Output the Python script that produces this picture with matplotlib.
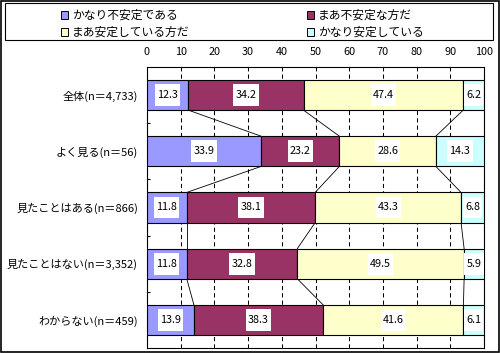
import numpy as np
import matplotlib.pyplot as plt
from matplotlib.patches import Rectangle
from matplotlib.path import Path

plt.rcParams['font.family'] = ['Noto Sans CJK JP', 'DejaVu Sans']

# data (percent)
categories = ['全体(n＝4,733)', 'よく見る(n＝56)', '見たことはある(n＝866)',
              '見たことはない(n＝3,352)', 'わからない(n＝459)']
series_names = ['かなり不安定である', 'まあ不安定な方だ', 'まあ安定している方だ', 'かなり安定している']
very_unstable = [12.3, 33.9, 11.8, 11.8, 13.9]
fairly_unstable = [34.2, 23.2, 38.1, 32.8, 38.3]
fairly_stable = [47.4, 28.6, 43.3, 49.5, 41.6]
very_stable = [6.2, 14.3, 6.8, 5.9, 6.1]
colors = ['#9999FF', '#993366', '#FFFFCC', '#CCFFFF']

values = np.array([very_unstable, fairly_unstable, fairly_stable, very_stable])
# 100% stacked: normalise each row
shares = values / values.sum(axis=0) * 100
lefts = np.vstack([np.zeros(len(categories)), np.cumsum(shares, axis=0)[:-1]])
ends = lefts + shares


def label_box(x0, y0, width, height, mutation_size):
    """White label box, taller than the text like in Excel."""
    padx = 0.2 * mutation_size
    cy = y0 + height / 2
    half = 1.0 * mutation_size
    x0, x1 = x0 - padx, x0 + width + padx
    return Path([(x0, cy - half), (x1, cy - half), (x1, cy + half), (x0, cy + half), (x0, cy - half)],
                closed=True)


fig = plt.figure(figsize=(5, 3.53), dpi=100)
ax = fig.add_axes([147 / 500, 1 - 348 / 353, 337 / 500, 281 / 353])

y = np.arange(len(categories))
bar_h = 0.536
for k in range(len(series_names)):
    ax.barh(y, shares[k], left=lefts[k], height=bar_h, color=colors[k],
            edgecolor='black', linewidth=0.8, zorder=3)
    for i in range(len(categories)):
        ax.text(lefts[k][i] + shares[k][i] / 2, y[i], f'{values[k][i]:.1f}',
                ha='center', va='center', fontsize=7.8, zorder=5,
                bbox=dict(boxstyle=label_box, fc='white', ec='none'))

# series lines between bars
for k in range(len(series_names) - 1):
    for i in range(len(categories) - 1):
        ax.plot([ends[k][i], ends[k][i + 1]], [y[i] + bar_h / 2, y[i + 1] - bar_h / 2],
                color='black', lw=0.6, zorder=2)

ax.set_xlim(0, 100)
ax.set_ylim(len(categories) - 0.5, -0.5)
ax.set_xticks(range(0, 101, 10))
ax.xaxis.tick_top()
ax.tick_params(axis='x', length=0, pad=7, labelsize=7.8)
ax.xaxis.grid(True, linestyle=(0, (4, 3)), color='black', lw=0.75, zorder=1)
ax.set_yticks(y)
ax.set_yticklabels(categories, fontsize=8.0)
ax.tick_params(axis='y', which='major', length=0, pad=6.5)
ax.set_yticks(np.arange(0.5, len(categories) - 1, 1), minor=True)
ax.tick_params(axis='y', which='minor', direction='in', length=2.5, width=0.8)
for s in ax.spines.values():
    s.set_linewidth(0.8)
    s.set_color('black')

# legend drawn by hand to match the box layout
fig.patches.append(Rectangle((5 / 500, 1 - 40 / 353), 488 / 500, 37 / 353,
                             transform=fig.transFigure, fill=False, ec='black', lw=0.8))
legend_pos = [(61, 15), (307, 15), (61, 32), (307, 32)]
for (px, py), name, c in zip(legend_pos, series_names, colors):
    fig.patches.append(Rectangle((px / 500, 1 - (py + 3.5) / 353), 7 / 500, 7 / 353,
                                 transform=fig.transFigure, fc=c, ec='black', lw=0.7))
    fig.text((px + 11) / 500, 1 - py / 353, name, fontsize=8.5, va='center', ha='left')

# outer frame
fig.patches.append(Rectangle((0.7 / 500, 0.7 / 353), 498 / 500, 351 / 353,
                             transform=fig.transFigure, fill=False, ec='black', lw=1.2))

fig.savefig('out.png', dpi=100)
